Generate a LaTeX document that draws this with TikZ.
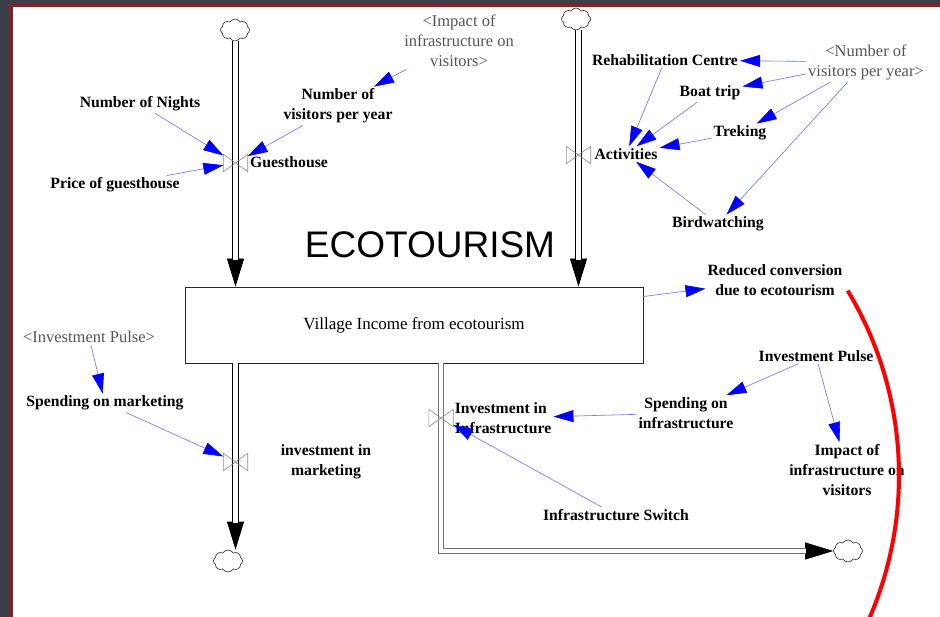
\documentclass[tikz,border=0pt]{standalone}
\usepackage{fontspec}
\setmainfont{Liberation Serif}
\setsansfont{Liberation Sans}
\usetikzlibrary{arrows.meta,shapes.symbols,calc}

\definecolor{frameback}{HTML}{3A3F49}
\definecolor{framered}{HTML}{7A2628}
\definecolor{linkline}{HTML}{6E6EFF}
\definecolor{linkhead}{HTML}{0000FF}
\definecolor{shadowtext}{HTML}{555555}

\tikzset{
  var/.style={font=\fontsize{15.7}{20}\selectfont\bfseries, align=center, inner sep=2pt},
  shadowvar/.style={font=\fontsize{16.5}{20}\selectfont, text=shadowtext, align=center, inner sep=2pt},
  link/.style={draw=linkline, line width=0.6pt,
    -{Triangle[length=20pt,width=12pt,color=linkhead]}},
  valvebox/.style={minimum width=24pt, minimum height=17pt, inner sep=0pt},
  valveline/.style={draw=black!45, line width=0.6pt, line join=miter},
  source/.style={cloud, cloud puffs=8, cloud puff arc=120, aspect=1.25,
    draw=black!75, line width=0.7pt, minimum width=29pt, minimum height=22pt, inner sep=0pt},
  pipe/.style={draw=black, double=white, double distance=4.6pt, line width=0.8pt},
  pipetip/.style={draw=black, line width=0.8pt, -{Triangle[length=28pt,width=17pt]}},
}

\begin{document}
\begin{tikzpicture}[x=1pt,y=-1pt]
\useasboundingbox (0,0) rectangle (940,617);

% window frame and canvas
\fill[frameback] (0,0) rectangle (940,617);
\fill[framered] (9,3) rectangle (940,617);
\fill[white] (13,7) rectangle (940,617);

% stock
\node[draw=black!85, line width=0.8pt, minimum width=458pt, minimum height=76pt,
      inner sep=0pt, font=\fontsize{17}{20}\selectfont] (box) at (414,325)
      {Village Income from ecotourism};
\node[font=\sffamily\fontsize{37}{40}\selectfont] (title) at (430,245) {ECOTOURISM};

% sources and sinks
\node[source] (c1) at (235,30) {};
\node[source] (c2) at (576,19) {};
\node[source] (c3) at (228,561) {};
\node[source] (c4) at (848,551) {};

% valves
\node[valvebox] (gv) at (235.5,163) {};
\node[valvebox] (av) at (578.5,155) {};
\node[valvebox] (mv) at (235.5,462) {};
\node[valvebox] (iv) at (441,418) {};

% flow pipes
\draw[pipetip] (c1.south -| gv) -- (gv |- box.north);
\draw[pipe, shorten >=27pt] (c1.south -| gv) -- (gv |- box.north);
\draw[pipetip] (c2.south -| av) -- (av |- box.north);
\draw[pipe, shorten >=27pt] (c2.south -| av) -- (av |- box.north);
\draw[pipetip] (mv |- box.south) -- (mv |- c3.north);
\draw[pipe, shorten >=27pt] (mv |- box.south) -- (mv |- c3.north);
\draw[pipetip] (iv |- box.south) |- (c4.west);
\draw[pipe, draw=black!55, shorten >=27pt] (iv |- box.south) |- (c4.west);

\foreach \v in {gv,av,mv,iv}
  \draw[valveline] (\v.north west) -- (\v.south east) -- (\v.north east)
                   -- (\v.south west) -- cycle;

% variables
\node[var] (nights) at (140,104) {Number of Nights};
\node[var] (price) at (115,185) {Price of guesthouse};
\node[var, anchor=west] (guest) at (248,162) {Guesthouse};
\node[var] (visitors) at (338,106) {Number of\\visitors per year};
\node[shadowvar] (impactS) at (459,41) {<Impact of\\infrastructure on\\visitors>};

\node[var] (rehab) at (665,60) {Rehabilitation Centre};
\node[var] (boat) at (710,93) {Boat trip};
\node[var] (trek) at (740,133) {Treking};
\node[var] (act) at (626,154) {Activities};
\node[var] (bird) at (718,224) {Birdwatching};
\node[shadowvar] (visitorsS) at (866,62) {<Number of\\visitors per year>};

\node[shadowvar] (pulseS) at (89,337) {<Investment Pulse>};
\node[var] (mkt) at (105,403) {Spending on marketing};
\node[var] (invmkt) at (326,462) {investment in\\marketing};

\node[var] (reduced) at (775,280) {Reduced conversion\\due to ecotourism};
\node[var] (pulse) at (816,356) {Investment Pulse};
\node[var] (spinfra) at (686,413) {Spending on\\infrastructure};
\node[var] (impact) at (847,470) {Impact of\\infrastructure on\\visitors};
\node[var, align=left] (invinfra) at (503,418) {Investment in\\Infrastructure};
\node[var] (switch) at (616,515) {Infrastructure Switch};

% causal links
\draw[link] (nights) -- (gv);
\draw[link] (price) -- (gv);
\draw[link] (visitors) -- (gv);
\draw[link] (impactS) -- (visitors);

\draw[link] (rehab) -- (act);
\draw[link] (boat) -- (act);
\draw[link] (trek) -- (act);
\draw[link] (bird) -- (act);
\draw[link] (visitorsS) -- (rehab);
\draw[link] (visitorsS) -- (boat);
\draw[link] (visitorsS) -- (trek);
\draw[link] (visitorsS) -- (bird);

\draw[link] (box) -- (reduced);
\draw[link] (pulse) -- (spinfra);
\draw[link] (pulse) -- (impact);
\draw[link] (spinfra) -- (invinfra);
\draw[link] (switch) -- (iv);

\draw[link] (pulseS) -- (mkt);
\draw[link] (mkt) -- (mv);

% red highlight arc
\draw[red, line width=4pt, domain=-31:23.5, samples=80, smooth]
  plot ({540+359*cos(\x)},{475.5+359*sin(\x)});
\end{tikzpicture}
\end{document}
